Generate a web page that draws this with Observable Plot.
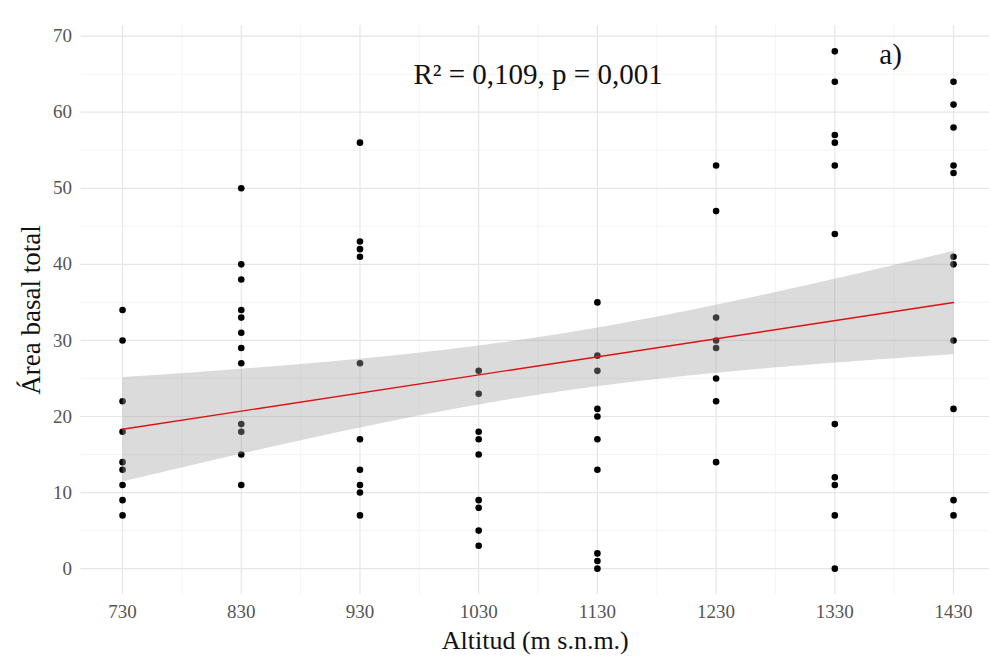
<!DOCTYPE html>
<html>
<head>
<meta charset="utf-8">
<script src="https://cdn.jsdelivr.net/npm/d3@7"></script>
<script src="https://cdn.jsdelivr.net/npm/@observablehq/plot@0.6"></script>
<style>
  html, body { margin: 0; padding: 0; background: #fff; }
  #chart svg { font-family: "Liberation Serif", "DejaVu Serif", serif; }
</style>
</head>
<body>
<div id="chart"></div>
<script>
// Altitudes (m s.n.m.) and the observed "Área basal total" at each altitude
const altitudes = [730, 830, 930, 1030, 1130, 1230, 1330, 1430];
const basal730  = [34, 30, 22, 18, 14, 13, 11, 9, 7];
const basal830  = [50, 40, 38, 34, 33, 31, 29, 27, 19, 18, 15, 11];
const basal930  = [56, 43, 42, 41, 27, 17, 13, 11, 10, 7];
const basal1030 = [26, 23, 18, 17, 15, 9, 8, 5, 3];
const basal1130 = [35, 28, 26, 21, 20, 17, 13, 2, 1, 0];
const basal1230 = [53, 47, 33, 30, 29, 25, 22, 14];
const basal1330 = [68, 64, 57, 56, 53, 44, 19, 12, 11, 7, 0];
const basal1430 = [64, 61, 58, 53, 52, 41, 40, 30, 21, 9, 7];

const xTicks = [730, 830, 930, 1030, 1130, 1230, 1330, 1430];
const xMinor = [780, 880, 980, 1080, 1180, 1280, 1380];
const yTicks = [0, 10, 20, 30, 40, 50, 60, 70];
const yMinor = [5, 15, 25, 35, 45, 55, 65];

const xTitle = "Altitud (m s.n.m.)";
const yTitle = "Área basal total";
const annotation = "R² = 0,109, p = 0,001";
const panelTag = "a)";

const series = [basal730, basal830, basal930, basal1030, basal1130, basal1230, basal1330, basal1430];
const data = altitudes.flatMap((a, i) => series[i].map(v => ({altitud: a, area: v})));

const chart = Plot.plot({
  width: 989,
  height: 663,
  marginLeft: 80.5,
  marginRight: 0,
  marginTop: 25,
  marginBottom: 69,
  style: {fontFamily: "'Liberation Serif', serif", background: "#fff"},
  x: {domain: [695, 1460.3]},
  y: {domain: [-3.4, 71.4]},
  marks: [
    Plot.ruleX(xMinor, {stroke: "#f1f1f1", strokeWidth: 0.7}),
    Plot.ruleY(yMinor, {stroke: "#f1f1f1", strokeWidth: 0.7}),
    Plot.ruleX(xTicks, {stroke: "#e6e6e6", strokeWidth: 1.2}),
    Plot.ruleY(yTicks, {stroke: "#e6e6e6", strokeWidth: 1.2}),
    Plot.dot(data, {x: "altitud", y: "area", r: 3.3, fill: "#000", stroke: "none"}),
    Plot.linearRegressionY(data, {x: "altitud", y: "area", stroke: "#dd1111", strokeWidth: 1.4, fill: "#a0a0a0", fillOpacity: 0.38}),
    Plot.axisX({ticks: xTicks, tickSize: 0, tickPadding: 10, tickFormat: d => String(d),
      fontSize: 19, color: "#555", label: null}),
    Plot.axisY({ticks: yTicks, tickSize: 0, tickPadding: 9, tickFormat: d => String(d),
      fontSize: 19, color: "#555", label: null}),
    Plot.text([xTitle], {frameAnchor: "bottom", dy: 46, lineAnchor: "middle", textAnchor: "middle", text: d => d, fontSize: 26, fill: "#111"}),
    Plot.text([yTitle], {frameAnchor: "left", dx: -50, rotate: -90, lineAnchor: "middle", textAnchor: "middle", text: d => d, fontSize: 27, fill: "#111"}),
    Plot.text([annotation], {x: 1080, y: 64.9, text: d => d, fontSize: 29, fill: "#111", textAnchor: "middle"}),
    Plot.text([panelTag], {x: 1377, y: 67.5, text: d => d, fontSize: 29, fill: "#111", textAnchor: "middle"})
  ]
});
document.getElementById("chart").appendChild(chart);
</script>
</body>
</html>
